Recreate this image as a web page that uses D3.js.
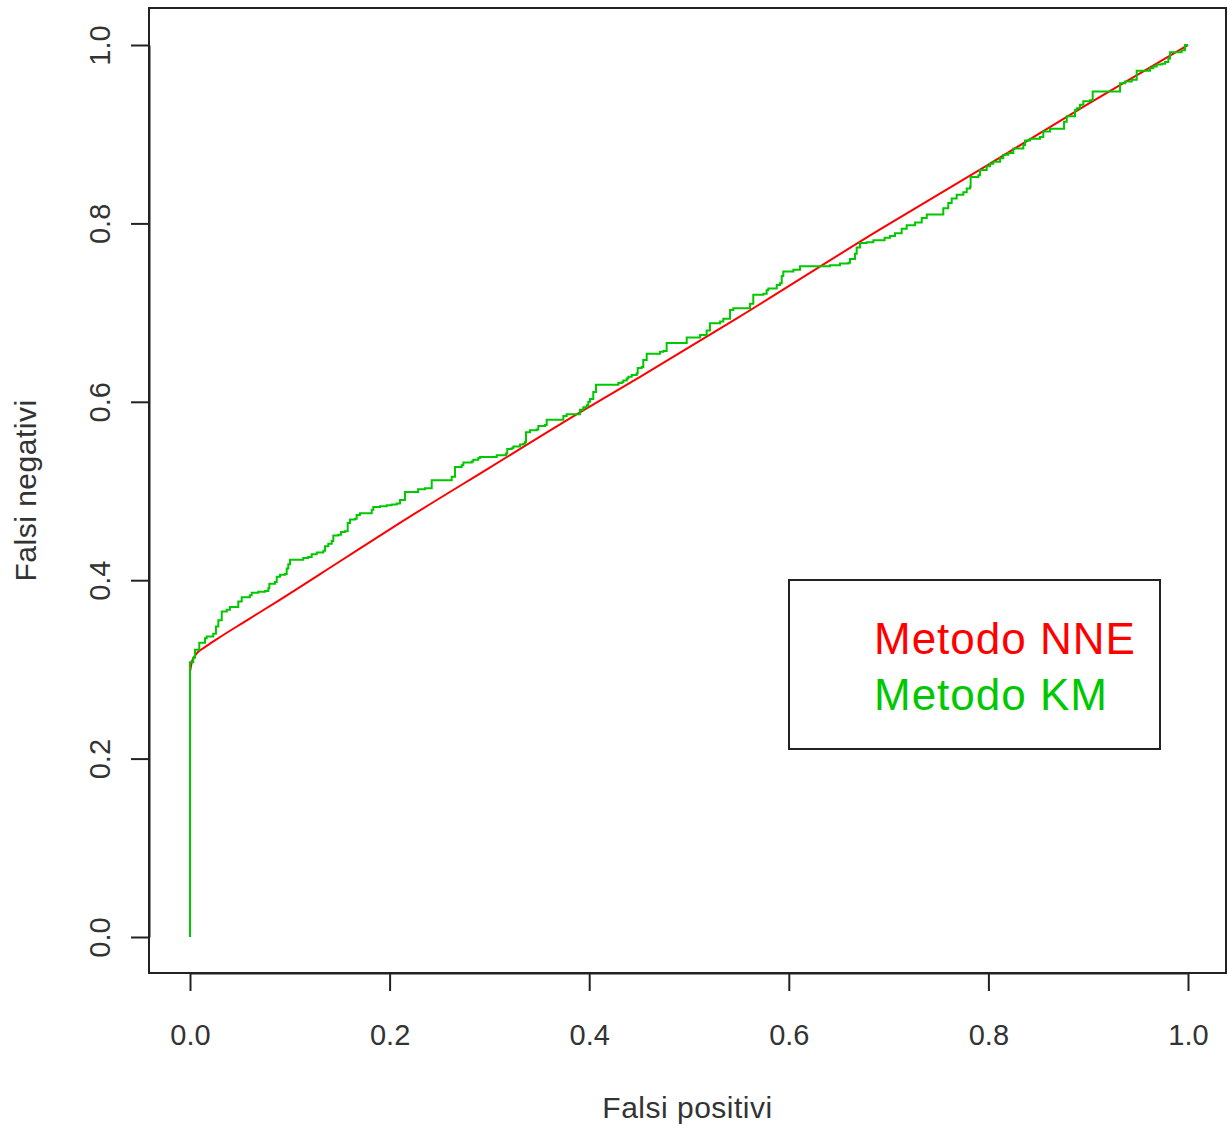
<!DOCTYPE html>
<html>
<head>
<meta charset="utf-8">
<script src="https://cdn.jsdelivr.net/npm/d3@7"></script>
<style>
  html, body { margin: 0; padding: 0; background: #fff; }
  svg { display: block; font-family: "Liberation Sans", Arial, sans-serif; }
</style>
</head>
<body>
<svg id="chart" width="1227" height="1130"></svg>
<script>
// ---- data ----
const xTicks = [0.0, 0.2, 0.4, 0.6, 0.8, 1.0];
const yTicks = [0.0, 0.2, 0.4, 0.6, 0.8, 1.0];
const xTitle = "Falsi positivi";
const yTitle = "Falsi negativi";
const seriesNames = ["Metodo NNE", "Metodo KM"];

// Metodo NNE (smooth curve)
const nneX = [0, 0.002, 0.006, 0.015, 0.027, 0.057, 0.09, 0.15, 0.21, 0.3, 0.389, 0.451, 0.55, 0.691, 0.8, 0.9, 1.0];
const nneY = [0.297, 0.309, 0.317, 0.325, 0.334, 0.355, 0.378, 0.421, 0.464, 0.526, 0.587, 0.628, 0.695, 0.793, 0.866, 0.934, 1.0];

// Metodo KM (step curve)
const kmX = [0, 0, 0.0033, 0.005, 0.0093, 0.0133, 0.015, 0.0167, 0.0217, 0.0233, 0.026, 0.0284, 0.0318, 0.0368, 0.040, 0.045, 0.0484, 0.0518, 0.060, 0.0618, 0.0684, 0.0752, 0.0785, 0.0795, 0.0852, 0.0869, 0.0902, 0.0952, 0.0969, 0.0985, 0.1002, 0.1119, 0.1135, 0.1185, 0.1219, 0.1270, 0.1336, 0.1353, 0.1386, 0.1420, 0.1436, 0.1486, 0.1513, 0.1553, 0.1580, 0.1603, 0.1653, 0.1670, 0.1703, 0.1771, 0.1821, 0.1837, 0.1904, 0.1971, 0.2021, 0.2071, 0.2104, 0.2154, 0.2224, 0.2285, 0.2355, 0.2422, 0.2605, 0.2622, 0.2655, 0.2722, 0.2739, 0.2823, 0.2839, 0.2889, 0.2906, 0.3066, 0.3073, 0.3156, 0.3166, 0.3179, 0.3223, 0.3240, 0.3307, 0.3340, 0.3357, 0.3367, 0.3407, 0.3474, 0.3490, 0.3557, 0.3574, 0.3724, 0.3741, 0.3774, 0.3891, 0.3908, 0.3941, 0.3975, 0.3991, 0.4008, 0.4041, 0.4068, 0.4276, 0.4292, 0.4326, 0.4342, 0.4376, 0.4392, 0.4426, 0.4476, 0.4486, 0.4526, 0.4542, 0.4576, 0.4659, 0.4709, 0.4743, 0.4776, 0.4877, 0.4977, 0.5077, 0.5110, 0.5143, 0.5177, 0.5210, 0.5311, 0.5344, 0.5388, 0.5411, 0.5444, 0.5578, 0.5611, 0.5644, 0.5745, 0.5778, 0.5795, 0.5862, 0.5879, 0.5912, 0.5929, 0.5945, 0.6029, 0.6046, 0.6096, 0.6112, 0.6330, 0.6413, 0.6513, 0.6597, 0.6613, 0.6663, 0.6680, 0.6713, 0.6781, 0.6847, 0.6914, 0.6960, 0.7014, 0.7064, 0.7131, 0.7181, 0.7265, 0.7332, 0.7382, 0.7532, 0.7548, 0.7598, 0.7632, 0.7682, 0.7749, 0.7783, 0.7816, 0.7822, 0.7899, 0.7916, 0.7983, 0.8016, 0.8049, 0.8099, 0.8116, 0.8149, 0.8199, 0.8250, 0.8300, 0.8350, 0.8367, 0.8417, 0.8517, 0.8550, 0.8617, 0.8751, 0.8758, 0.8785, 0.8851, 0.8868, 0.8885, 0.8918, 0.8951, 0.9018, 0.9045, 0.9269, 0.9319, 0.9369, 0.9402, 0.9436, 0.9486, 0.9586, 0.9619, 0.9652, 0.9686, 0.9736, 0.9770, 0.9803, 0.9820, 0.9870, 0.9937, 0.9970, 1.0];
const kmY = [0, 0.308, 0.313, 0.322, 0.330, 0.330, 0.335, 0.337, 0.337, 0.340, 0.348, 0.355, 0.365, 0.367, 0.370, 0.370, 0.376, 0.381, 0.383, 0.386, 0.387, 0.388, 0.391, 0.396, 0.398, 0.404, 0.406, 0.407, 0.413, 0.418, 0.423, 0.423, 0.425, 0.426, 0.429, 0.431, 0.433, 0.438, 0.441, 0.444, 0.450, 0.451, 0.454, 0.455, 0.464, 0.468, 0.469, 0.473, 0.475, 0.475, 0.479, 0.482, 0.483, 0.484, 0.485, 0.486, 0.490, 0.499, 0.499, 0.502, 0.503, 0.512, 0.512, 0.516, 0.527, 0.529, 0.532, 0.533, 0.535, 0.537, 0.538, 0.538, 0.540, 0.540, 0.542, 0.547, 0.548, 0.550, 0.552, 0.553, 0.555, 0.566, 0.568, 0.569, 0.573, 0.574, 0.580, 0.580, 0.584, 0.586, 0.586, 0.591, 0.594, 0.596, 0.600, 0.603, 0.611, 0.619, 0.619, 0.621, 0.622, 0.624, 0.626, 0.628, 0.630, 0.632, 0.638, 0.639, 0.647, 0.654, 0.654, 0.656, 0.657, 0.666, 0.666, 0.672, 0.672, 0.675, 0.675, 0.680, 0.688, 0.690, 0.693, 0.693, 0.703, 0.705, 0.705, 0.710, 0.720, 0.721, 0.725, 0.727, 0.727, 0.731, 0.733, 0.741, 0.746, 0.746, 0.748, 0.748, 0.752, 0.752, 0.753, 0.755, 0.756, 0.760, 0.766, 0.773, 0.778, 0.779, 0.781, 0.781, 0.784, 0.786, 0.789, 0.794, 0.798, 0.801, 0.806, 0.810, 0.810, 0.817, 0.823, 0.828, 0.832, 0.835, 0.839, 0.841, 0.852, 0.854, 0.860, 0.864, 0.867, 0.869, 0.869, 0.873, 0.877, 0.879, 0.884, 0.884, 0.888, 0.893, 0.895, 0.897, 0.903, 0.906, 0.906, 0.914, 0.920, 0.920, 0.927, 0.929, 0.933, 0.937, 0.938, 0.948, 0.948, 0.957, 0.959, 0.959, 0.961, 0.971, 0.971, 0.974, 0.976, 0.978, 0.979, 0.981, 0.985, 0.992, 0.992, 0.994, 1.0, 1.0];

// ---- layout ----
const box = { left: 149, top: 8, right: 1226, bottom: 973 };
const svg = d3.select("#chart");

const x = d3.scaleLinear().domain([0, 1]).range([190, 1188]);
const y = d3.scaleLinear().domain([0, 1]).range([937, 45]);

const textColor = "#333";
const lineColor = "#222";
const red = "#ff0000";
const green = "#00c800";

// curves
const nne = nneX.map((v, i) => [v, nneY[i]]);
const km = kmX.map((v, i) => [v, kmY[i]]);

svg.append("path")
  .datum(nne)
  .attr("fill", "none")
  .attr("stroke", red)
  .attr("stroke-width", 2)
  .attr("d", d3.line().x(d => x(d[0])).y(d => y(d[1])).curve(d3.curveMonotoneX));

svg.append("path")
  .datum(km)
  .attr("fill", "none")
  .attr("stroke", green)
  .attr("stroke-width", 2)
  .attr("d", d3.line().x(d => x(d[0])).y(d => y(d[1])).curve(d3.curveStepAfter));

// box
svg.append("rect")
  .attr("x", box.left).attr("y", box.top)
  .attr("width", box.right - box.left).attr("height", box.bottom - box.top)
  .attr("fill", "none").attr("stroke", lineColor).attr("stroke-width", 2);

// x axis
const xAxis = svg.append("g")
  .attr("transform", `translate(0,${box.bottom})`)
  .call(d3.axisBottom(x).tickValues(xTicks).tickFormat(d3.format(".1f")).tickSize(18).tickSizeOuter(0));
xAxis.select(".domain").attr("stroke", lineColor).attr("stroke-width", 2);
xAxis.selectAll(".tick line").attr("stroke", lineColor).attr("stroke-width", 2);
xAxis.selectAll(".tick text")
  .attr("y", 72).attr("dy", null)
  .attr("fill", textColor)
  .style("font-size", "29px")
  .style("font-family", "'Liberation Sans', Arial, sans-serif");

// y axis
const yAxis = svg.append("g")
  .attr("transform", `translate(${box.left},0)`)
  .call(d3.axisLeft(y).tickValues(yTicks).tickFormat(d3.format(".1f")).tickSize(18).tickSizeOuter(0));
yAxis.select(".domain").attr("stroke", lineColor).attr("stroke-width", 2);
yAxis.selectAll(".tick line").attr("stroke", lineColor).attr("stroke-width", 2);
yAxis.selectAll(".tick text")
  .attr("x", null).attr("dy", null)
  .attr("transform", "translate(-39,0) rotate(-90)")
  .attr("text-anchor", "middle")
  .attr("fill", textColor)
  .style("font-size", "29px")
  .style("font-family", "'Liberation Sans', Arial, sans-serif");

// axis titles
svg.append("text")
  .attr("x", (box.left + box.right) / 2).attr("y", 1118)
  .attr("text-anchor", "middle")
  .attr("fill", textColor)
  .style("font-size", "30px")
  .style("letter-spacing", "0.5px")
  .text(xTitle);

svg.append("text")
  .attr("transform", `translate(36,${(box.top + box.bottom) / 2}) rotate(-90)`)
  .attr("text-anchor", "middle")
  .attr("fill", textColor)
  .style("font-size", "30px")
  .style("letter-spacing", "0.5px")
  .text(yTitle);

// legend
const legend = svg.append("g");
legend.append("rect")
  .attr("x", 789).attr("y", 580).attr("width", 371).attr("height", 169)
  .attr("fill", "#fff").attr("stroke", lineColor).attr("stroke-width", 2);
const legendColors = [red, green];
seriesNames.forEach((name, i) => {
  legend.append("text")
    .attr("x", 874).attr("y", 654 + i * 56)
    .attr("fill", legendColors[i])
    .style("font-size", "44px")
    .style("letter-spacing", "1px")
    .text(name);
});
</script>
</body>
</html>
